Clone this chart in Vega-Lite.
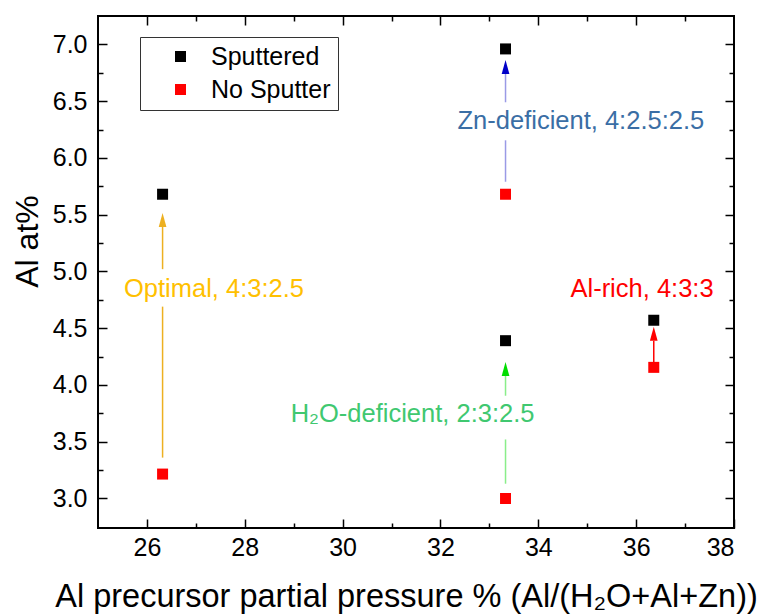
{
  "$schema": "https://vega.github.io/schema/vega-lite/v6.json",
  "width": 636,
  "height": 512,
  "autosize": {"type": "none"},
  "padding": {"left": 98, "top": 16, "right": 50, "bottom": 86},
  "background": "white",
  "config": {
    "view": {"stroke": "black", "strokeWidth": 2},
    "font": "Liberation Sans",
    "axis": {"grid": false, "domain": false, "tickColor": "black", "tickWidth": 1.5, "labelColor": "black", "titleColor": "black", "labelFont": "Liberation Sans", "titleFont": "Liberation Sans", "titleFontWeight": "normal"}
  },
  "datasets": {
    "points": [
      {"x": 26.32, "y": 5.68, "s": "Sputtered"},
      {"x": 26.32, "y": 3.215, "s": "No Sputter"},
      {"x": 33.33, "y": 6.96, "s": "Sputtered"},
      {"x": 33.33, "y": 5.68, "s": "No Sputter"},
      {"x": 33.33, "y": 4.39, "s": "Sputtered"},
      {"x": 33.33, "y": 3.0, "s": "No Sputter"},
      {"x": 36.36, "y": 4.57, "s": "Sputtered"},
      {"x": 36.36, "y": 4.155, "s": "No Sputter"}
    ],
    "segs": [
      {"x": 26.32, "y": 3.36, "y2": 4.69, "g": "Optimal"},
      {"x": 26.32, "y": 5.02, "y2": 5.4, "g": "Optimal"},
      {"x": 33.33, "y": 5.79, "y2": 6.155, "g": "Zn"},
      {"x": 33.33, "y": 6.49, "y2": 6.75, "g": "Zn"},
      {"x": 33.33, "y": 3.13, "y2": 3.52, "g": "H2O"},
      {"x": 33.33, "y": 3.905, "y2": 4.08, "g": "H2O"},
      {"x": 36.36, "y": 4.16, "y2": 4.39, "g": "Al"}
    ],
    "heads": [
      {"x": 26.32, "y": 5.452, "g": "Optimal"},
      {"x": 33.33, "y": 6.8, "g": "Zn"},
      {"x": 33.33, "y": 4.14, "g": "H2O"},
      {"x": 36.36, "y": 4.45, "g": "Al"}
    ],
    "labels": [
      {"x": 27.37, "y": 4.773, "t": "Optimal, 4:3:2.5", "g": "Optimal"},
      {"x": 34.87, "y": 6.259, "t": "Zn-deficient, 4:2.5:2.5", "g": "Zn"},
      {"x": 31.43, "y": 3.67, "t": "H₂O-deficient, 2:3:2.5", "g": "H2O"},
      {"x": 36.12, "y": 4.773, "t": "Al-rich, 4:3:3", "g": "Al"}
    ]
  },
  "layer": [
    {
      "data": {"name": "segs"},
      "mark": {"type": "rule", "strokeWidth": 1.5},
      "encoding": {
        "x": {"field": "x", "type": "quantitative", "scale": {"domain": [25, 38], "nice": false, "zero": false},
          "axis": {"orient": "top", "values": [26,27,28,29,30,31,32,33,34,35,36,37], "labels": false, "title": null,
            "tickSize": {"condition": {"test": "datum.value % 2 === 0", "value": -9}, "value": -5}}},
        "y": {"field": "y", "type": "quantitative", "scale": {"domain": [2.74, 7.25], "nice": false, "zero": false},
          "axis": {"orient": "right", "values": [3, 3.25, 3.5, 3.75, 4, 4.25, 4.5, 4.75, 5, 5.25, 5.5, 5.75, 6, 6.25, 6.5, 6.75, 7], "labels": false, "title": null,
            "tickSize": {"condition": {"test": "(datum.value * 2) % 1 === 0", "value": -9}, "value": -5}}},
        "y2": {"field": "y2"},
        "color": {"field": "g", "type": "nominal", "legend": null,
          "scale": {"domain": ["Optimal", "Zn", "H2O", "Al"], "range": ["#EDB021", "#9A9AE6", "#8AEE8A", "#FF0000"]}}
      }
    },
    {
      "data": {"name": "heads"},
      "mark": {"type": "point", "shape": "M0,-1L0.55,1L-0.55,1Z", "size": 196, "filled": true, "opacity": 1, "strokeWidth": 0},
      "encoding": {
        "x": {"field": "x", "type": "quantitative", "axis": null},
        "y": {"field": "y", "type": "quantitative", "axis": null},
        "color": {"field": "g", "type": "nominal", "legend": null,
          "scale": {"domain": ["Optimal", "Zn", "H2O", "Al"], "range": ["#EDB021", "#0000C8", "#00DD00", "#FF0000"]}}
      }
    },
    {
      "data": {"name": "labels"},
      "mark": {"type": "text", "fontSize": 25.5, "font": "Liberation Sans", "align": "center", "baseline": "alphabetic"},
      "encoding": {
        "x": {"field": "x", "type": "quantitative", "axis": null},
        "y": {"field": "y", "type": "quantitative", "axis": null},
        "text": {"field": "t"},
        "color": {"field": "g", "type": "nominal", "legend": null,
          "scale": {"domain": ["Optimal", "Zn", "H2O", "Al"], "range": ["#FFC000", "#3A6EA5", "#40C870", "#FF0000"]}}
      }
    },
    {
      "data": {"name": "points"},
      "mark": {"type": "square", "size": 121, "opacity": 1, "filled": true},
      "encoding": {
        "x": {"field": "x", "type": "quantitative",
          "axis": {"orient": "bottom", "values": [26,27,28,29,30,31,32,33,34,35,36,37,38], "labelFontSize": 25, "labelPadding": 16,
            "labelExpr": "datum.value % 2 === 0 ? datum.label : ''",
            "tickSize": {"condition": {"test": "datum.value % 2 === 0", "value": -9}, "value": -5},
            "title": "Al precursor partial pressure % (Al/(H₂O+Al+Zn))", "titleFontSize": 32.5,
            "titleX": 308, "titleY": 78, "titleBaseline": "alphabetic", "titleAlign": "center"}},
        "y": {"field": "y", "type": "quantitative",
          "axis": {"orient": "left", "values": [3, 3.25, 3.5, 3.75, 4, 4.25, 4.5, 4.75, 5, 5.25, 5.5, 5.75, 6, 6.25, 6.5, 6.75, 7], "labelFontSize": 25, "labelPadding": 20,
            "labelExpr": "(datum.value * 2) % 1 === 0 ? format(datum.value, '.1f') : ''",
            "tickSize": {"condition": {"test": "(datum.value * 2) % 1 === 0", "value": -9}, "value": -5},
            "title": "Al at%", "titleFontSize": 32, "titleX": -61, "titleY": 225, "titleBaseline": "alphabetic", "titleAlign": "center", "titleAngle": -90}},
        "color": {"field": "s", "type": "nominal",
          "scale": {"domain": ["Sputtered", "No Sputter"], "range": ["#000000", "#FF0000"]},
          "legend": {"title": null, "orient": "none", "legendX": 42, "legendY": 21, "symbolType": "square", "symbolSize": 121,
            "labelFontSize": 25, "labelFont": "Liberation Sans", "labelColor": "black", "strokeColor": "#333333", "fillColor": "white",
            "padding": 7, "symbolOffset": 21, "labelOffset": 18, "rowPadding": 7, "symbolStrokeWidth": 0}}
      }
    }
  ],
  "resolve": {"axis": {"x": "independent", "y": "independent"}, "scale": {"color": "independent"}}
}
